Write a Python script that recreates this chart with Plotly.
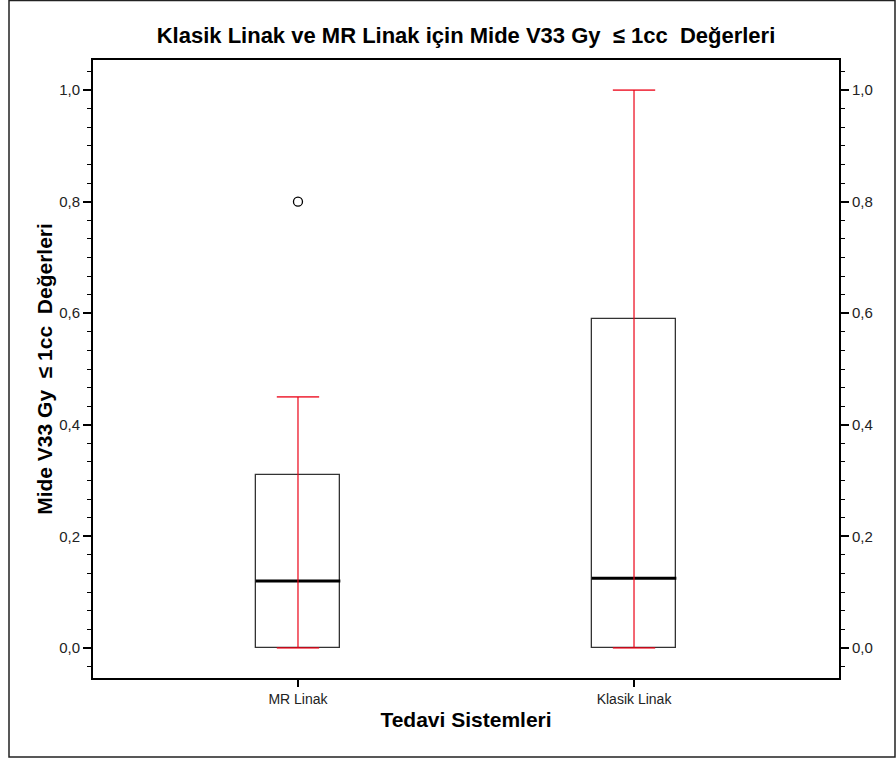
import plotly.graph_objects as go

# ---- data ----
categories = ["MR Linak", "Klasik Linak"]
q1 = [0.0, 0.0]
median = [0.12, 0.125]
q3 = [0.31, 0.59]
whisker_low = [0.0, 0.0]
whisker_high = [0.45, 1.0]
outlier_cat = ["MR Linak"]
outlier_val = [0.80]

y_ticks = [0.0, 0.2, 0.4, 0.6, 0.8, 1.0]

# ---- style ----
FONT = "Liberation Sans, Arial, sans-serif"
BOX_W = 0.252
CAP_W = BOX_W / 2
RED = "rgba(235,0,20,0.75)"

pos = list(range(len(categories)))
opos = [categories.index(c) for c in outlier_cat]

fig = go.Figure()

# boxes (Q1..Q3)
fig.add_trace(go.Bar(
    x=pos, base=q1, y=[b - a for a, b in zip(q1, q3)], width=BOX_W,
    marker=dict(color="white", line=dict(color="#333333", width=1.3)),
    showlegend=False, hoverinfo="skip"))

# medians
mx, my = [], []
for p, m in zip(pos, median):
    mx += [p - BOX_W / 2, p + BOX_W / 2, None]
    my += [m, m, None]
fig.add_trace(go.Scatter(x=mx, y=my, mode="lines",
                         line=dict(color="black", width=3),
                         showlegend=False, hoverinfo="skip"))

# whiskers (red, through the box) + caps
wx, wy = [], []
for p, lo, hi in zip(pos, whisker_low, whisker_high):
    wx += [p, p, None, p - CAP_W / 2, p + CAP_W / 2, None, p - CAP_W / 2, p + CAP_W / 2, None]
    wy += [lo, hi, None, lo, lo, None, hi, hi, None]
fig.add_trace(go.Scatter(x=wx, y=wy, mode="lines",
                         line=dict(color=RED, width=1.6),
                         showlegend=False, hoverinfo="skip"))

# outlier
fig.add_trace(go.Scatter(x=opos, y=outlier_val, mode="markers",
                         marker=dict(symbol="circle-open", size=9,
                                     color="black", line=dict(width=1.3)),
                         showlegend=False))

# invisible trace to activate the right-side axis
fig.add_trace(go.Scatter(x=opos, y=outlier_val, yaxis="y2", mode="markers",
                         marker=dict(opacity=0), showlegend=False, hoverinfo="skip"))

yr = [-0.054, 1.054]
yax_common = dict(
    range=yr, tickvals=y_ticks, tickformat=".1f",
    ticks="outside", ticklen=8, tickwidth=1.5, tickcolor="black",
    minor=dict(dtick=1 / 30, tick0=0, ticks="outside", ticklen=4,
               tickwidth=1.2, tickcolor="black", showgrid=False),
    showgrid=False, zeroline=False,
    showline=True, linecolor="black", linewidth=2,
    tickfont=dict(family=FONT, size=15, color="#222222"),
)

fig.update_layout(
    width=896, height=761,
    margin=dict(l=93, r=57, t=60, b=83),
    paper_bgcolor="white", plot_bgcolor="white",
    separators=",.",
    title=dict(
        text="Klasik Linak ve MR Linak için Mide V33 Gy\u00a0\u00a0≤ 1cc\u00a0\u00a0Değerleri",
        x=0.5, xref="paper", xanchor="center",
        y=1 - 35 / 761, yref="container", yanchor="middle",
        font=dict(family=FONT, size=22, color="black", weight="bold")),
    xaxis=dict(
        range=[-0.61, 1.61], tickvals=pos, ticktext=categories,
        ticks="outside", ticklen=7, tickwidth=1.5, tickcolor="black",
        showgrid=False, zeroline=False,
        showline=True, mirror=True, linecolor="black", linewidth=2,
        tickfont=dict(family=FONT, size=14, color="#222222"),
        title=dict(text="Tedavi Sistemleri", standoff=7,
                   font=dict(family=FONT, size=21, color="black", weight="bold")),
    ),
    yaxis=dict(
        **yax_common, mirror=True,
        title=dict(text="Mide V33 Gy\u00a0\u00a0≤ 1cc\u00a0\u00a0Değerleri", standoff=1,
                   font=dict(family=FONT, size=21, color="black", weight="bold")),
    ),
    yaxis2=dict(**yax_common, overlaying="y", side="right"),
    bargap=0,
)

# outer frame around the whole figure
fig.add_shape(type="rect", xref="paper", yref="paper",
              x0=(9 - 93) / 746, x1=(895 - 93) / 746,
              y0=(678 - 757) / 618, y1=(678 - 0.5) / 618,
              line=dict(color="#222222", width=1.5), layer="below")

fig.write_html("out.html")
